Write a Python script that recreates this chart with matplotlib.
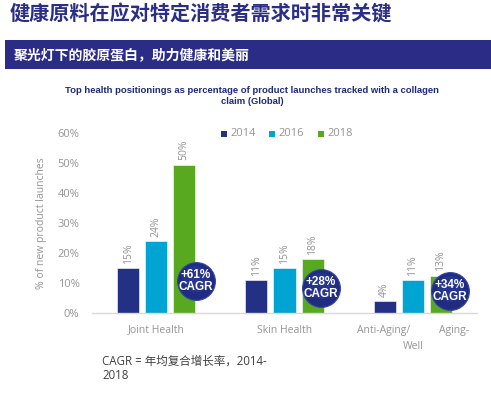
import matplotlib
matplotlib.use("Agg")
import matplotlib.pyplot as plt
from matplotlib.patches import Rectangle
import numpy as np

plt.rcParams['font.family'] = ['Open Sans', 'Noto Sans CJK SC', 'DejaVu Sans']

title = "健康原料在应对特定消费者需求时非常关键"
banner = "聚光灯下的胶原蛋白，助力健康和美丽"
chart_title = "Top health positionings as percentage of product launches tracked with a collagen\nclaim (Global)"
categories = ["Joint Health", "Skin Health", "Anti-Aging/Well-Aging"]
years = ["2014", "2016", "2018"]
values_2014 = [15, 11, 4]
values_2016 = [24, 15, 11]
values_2018 = [49.5, 18, 12.5]
labels_2014 = ["15%", "11%", "4%"]
labels_2016 = ["24%", "15%", "11%"]
labels_2018 = ["50%", "18%", "13%"]
cagr = ["+61%", "+28%", "+34%"]
yticks = [0, 10, 20, 30, 40, 50, 60]
ytick_labels = ["0%", "10%", "20%", "30%", "40%", "50%", "60%"]
footnote = "CAGR = 年均复合增长率，2014-\n2018"

colors = ["#233185", "#00a4d3", "#58a91f"]
navy = "#2a2e86"
gray = "#949494"

W, H = 491, 395
fig = plt.figure(figsize=(W / 100, H / 100), dpi=100)

def fx(px):
    return px / W

def fy(py):
    return 1 - py / H

# Title
fig.text(fx(10), fy(14), title, fontsize=14.5, color=navy, fontweight='bold',
         family=['Noto Sans CJK SC', 'DejaVu Sans'], va='center', ha='left')

# Banner
fig.patches.append(Rectangle((fx(5), fy(69)), fx(491) - fx(5), fy(40) - fy(69),
                             transform=fig.transFigure, facecolor="#2b2c86",
                             edgecolor='none', zorder=0))
fig.text(fx(14), fy(55), banner, fontsize=10, color='white', fontweight='bold',
         family=['Noto Sans CJK SC', 'DejaVu Sans'], va='center', ha='left')

# Chart title
fig.text(fx(252), fy(96), chart_title, fontsize=6.8, color="#1f2a78",
         fontweight='bold', family=['Liberation Sans Narrow', 'Liberation Sans'],
         ha='center', va='center', linespacing=1.35)

# Axes
ax = fig.add_axes([fx(92), fy(313), fx(477) - fx(92), fy(133) - fy(313)])
x = np.arange(len(categories))
bw = 0.172
off = 0.219
series = [values_2014, values_2016, values_2018]
labels = [labels_2014, labels_2016, labels_2018]
for i, (vals, labs) in enumerate(zip(series, labels)):
    xs = x + (i - 1) * off
    ax.bar(xs, vals, width=bw, color=colors[i], edgecolor='white',
           linewidth=0.4, zorder=2)
    for xi, v, lab in zip(xs, vals, labs):
        ax.annotate(lab, (xi, v), xytext=(0, 3), textcoords='offset points',
                    rotation=90, ha='center', va='bottom', fontsize=7.5,
                    color=gray)

ax.set_xlim(-0.5, 2.5)
ax.set_ylim(0, 60)
ax.set_yticks(yticks)
ax.set_yticklabels(ytick_labels, fontsize=8, color=gray)
ax.tick_params(axis='y', length=0, pad=9)
ax.tick_params(axis='x', length=0)
ax.set_xticks([])
for s in ['top', 'right', 'left']:
    ax.spines[s].set_visible(False)
ax.spines['bottom'].set_color('#d9d9d9')
ax.spines['bottom'].set_linewidth(1.0)
ax.set_ylabel("% of new product launches", fontsize=7.5, color=gray, labelpad=8)

# X category labels
ax.text(0, -5.7, categories[0], ha='center', va='center', fontsize=7.5,
        color=gray, transform=ax.transData)
ax.text(1, -5.7, categories[1], ha='center', va='center', fontsize=7.5,
        color=gray, transform=ax.transData)
parts = categories[2].split('/')
ax.text(1.77, -5.7, parts[0] + '/', ha='center', va='center', fontsize=7.5,
        color=gray)
ax.text(2.32, -5.7, parts[1].split('-')[1] + '-', ha='center', va='center',
        fontsize=7.5, color=gray)
ax.text(2.0, -11.3, parts[1].split('-')[0], ha='center', va='center',
        fontsize=7.5, color=gray)

# CAGR circles (badge placement)
badge_dx = [0.31, 0.285, 0.29]
badge_y = [10.7, 8.4, 7.4]
for i, c in enumerate(cagr):
    cx = x[i] + badge_dx[i]
    cy = badge_y[i]
    ax.scatter([cx], [cy], s=740, color="#1f2c82", edgecolors="#3545a0",
               linewidths=0.8, zorder=5, clip_on=False)
    ax.scatter([cx], [cy + 0.6], s=360, color="#2a3a96", edgecolors='none',
               alpha=0.6, zorder=5, clip_on=False)
    ax.text(cx, cy, c + "\nCAGR", ha='center', va='center', fontsize=8.5,
            color='white', fontweight='bold', zorder=6, linespacing=1.05,
            family=['Liberation Sans', 'DejaVu Sans'])

# Legend (manual)
leg_sq_x = [221, 269, 318]
for i, yr in enumerate(years):
    fig.patches.append(Rectangle((fx(leg_sq_x[i]), fy(137)), fx(6), 6 / H,
                                 transform=fig.transFigure,
                                 facecolor=colors[i], edgecolor='none'))
    fig.text(fx(leg_sq_x[i] + 9), fy(134), yr, fontsize=8, color=gray,
             va='center', ha='left')

# Footnote
fig.text(fx(102), fy(368), footnote, fontsize=8.3, color="#404040",
         va='center', ha='left', linespacing=1.15,
         family=['Open Sans', 'Noto Sans CJK SC', 'DejaVu Sans'])

fig.savefig("out.png", dpi=100)
